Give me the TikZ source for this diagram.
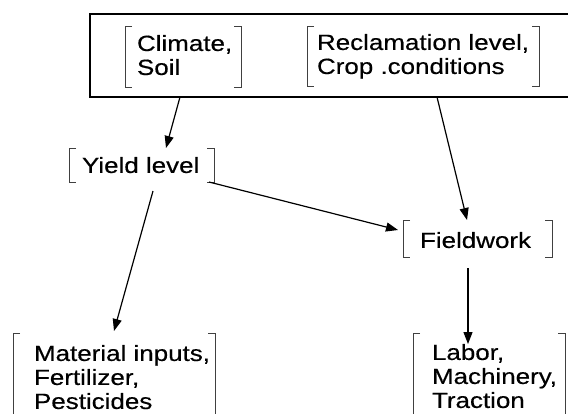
\documentclass[tikz,border=0pt]{standalone}
\usepackage{fontspec}
\setmainfont{Liberation Sans}[FakeStretch=1.18,FakeBold=0.4]
\usetikzlibrary{arrows.meta}
\begin{document}
\begin{tikzpicture}[x=1pt,y=-1pt,
  frame/.style={inner sep=0pt,outer sep=0pt,anchor=north west},
  outerbox/.style={draw,line width=2pt,inner sep=0pt,outer sep=0pt,anchor=north west},
  txt/.style={inner sep=0pt,outer sep=0pt,anchor=north west,align=left,
    font=\fontsize{22}{24}\selectfont},
  brk/.style={draw=black!75,line width=0.8pt},
  arr/.style={line width=1.2pt,-{Triangle[length=12pt,width=9pt]}}]
\useasboundingbox (0,0) rectangle (568,413);
\clip (0,0) rectangle (568,413);
\fill[white] (0,0) rectangle (568,413);
% outer box
\node[outerbox,minimum width=500,minimum height=83] (top) at (90,14) {};
% bracket frames
\node[frame,minimum width=116,minimum height=61] (cs) at (125,26) {};
\node[frame,minimum width=232,minimum height=60] (rc) at (307,26) {};
\node[frame,minimum width=145,minimum height=34] (yl) at (69,148) {};
\node[frame,minimum width=149,minimum height=37] (fw) at (403,220) {};
\node[frame,minimum width=202,minimum height=90] (mi) at (13,333) {};
\node[frame,minimum width=152,minimum height=90] (lb) at (413,333) {};
\foreach \n in {cs,rc,yl,fw,mi,lb}{
  \draw[brk] ([xshift=7pt]\n.north west) -- (\n.north west) -- (\n.south west) -- ([xshift=7pt]\n.south west);
  \draw[brk] ([xshift=-7pt]\n.north east) -- (\n.north east) -- (\n.south east) -- ([xshift=-7pt]\n.south east);
}
% texts
\node[txt] (cst) at (137,35) {Climate,\\Soil};
\node[txt] (rct) at (317,34) {Reclamation level,\\Crop .conditions};
\node[txt] (ylt) at (82,157) {Yield level};
\node[txt] (fwt) at (420,232) {Fieldwork};
\node[txt] (mit) at (34,345) {Material inputs,\\Fertilizer,\\Pesticides};
\node[txt] (lbt) at (432,344) {Labor,\\Machinery,\\Traction};
% connectors
\draw[arr] ([xshift=-3pt]cs.south |- top.south) -- ([xshift=24.5pt]yl.north);
\draw[arr] ([xshift=14pt]rc.south |- top.south) -- ([xshift=-10.5pt]fw.north);
\draw[arr] ([xshift=-5pt]yl.south east) -- ([xshift=-5pt,yshift=8.5pt]fw.west);
\draw[arr] ([xshift=11.5pt,yshift=-9pt]yl.south) -- ([yshift=2pt]mi.north);
\draw[arr] ([xshift=-9.5pt,yshift=-11pt]fw.south) -- ([xshift=-9.5pt,yshift=-11pt]fw.south |- lb.north);
\end{tikzpicture}
\end{document}
